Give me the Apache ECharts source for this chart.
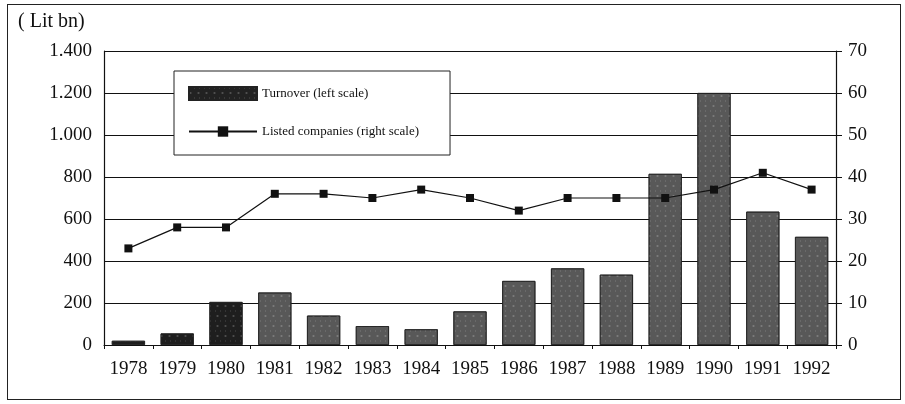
<!DOCTYPE html>
<html>
<head>
<meta charset="utf-8">
<script src="https://cdn.jsdelivr.net/npm/echarts@6/dist/echarts.min.js"></script>
<style>
  html, body { margin: 0; padding: 0; background: #fff; }
  #chart { width: 905px; height: 404px; }
  #frame { position: absolute; left: 7px; top: 4px; width: 894px; height: 396px; border: 1px solid #222; box-sizing: border-box; pointer-events: none; }
</style>
</head>
<body>
<div id="chart"></div>
<div id="frame"></div>
<script>
const years = ['1978', '1979', '1980', '1981', '1982', '1983', '1984', '1985',
  '1986', '1987', '1988', '1989', '1990', '1991', '1992'];
// turnover, Lit bn (left scale)
const turnover = [20, 55, 205, 250, 140, 90, 75, 160, 305, 365, 335, 815, 1200, 635, 515];
// number of listed companies (right scale)
const listed = [23, 28, 28, 36, 36, 35, 37, 35, 32, 35, 35, 35, 37, 41, 37];

const serif = 'Liberation Serif';

const chart = echarts.init(document.getElementById('chart'));
chart.setOption({
  animation: false,
  textStyle: { fontFamily: serif, color: '#111' },
  title: {
    text: '( Lit bn)',
    left: 13, top: 7,
    textStyle: { fontFamily: serif, fontSize: 20, fontWeight: 'normal', color: '#111' }
  },
  grid: { left: 104, right: 69, top: 51, bottom: 59 },
  legend: {
    orient: 'vertical',
    left: 174, top: 71,
    padding: [15, 31, 17, 14],
    itemGap: 24,
    itemWidth: 68, itemHeight: 13,
    backgroundColor: '#fff',
    borderColor: '#222', borderWidth: 1,
    textStyle: { fontFamily: serif, fontSize: 13, color: '#111' },
    data: [
      { name: 'Turnover (left scale)', icon: 'rect' },
      { name: 'Listed companies (right scale)' }
    ]
  },
  xAxis: {
    type: 'category',
    data: years,
    axisLine: { lineStyle: { color: '#111', width: 1.2 } },
    axisTick: { show: true, length: 4, lineStyle: { color: '#111' } },
    axisLabel: { fontFamily: serif, fontSize: 19, color: '#111', margin: 15, interval: 0, hideOverlap: false }
  },
  yAxis: [
    {
      type: 'value', min: 0, max: 1400, interval: 200,
      axisLine: { show: true, lineStyle: { color: '#111', width: 1.2 } },
      axisTick: { show: false },
      splitLine: { lineStyle: { color: '#111', width: 1.2 } },
      axisLabel: {
        fontFamily: serif, fontSize: 19, color: '#111', margin: 12,
        formatter: v => v >= 1000 ? Math.floor(v / 1000) + '.' + String(v % 1000).padStart(3, '0') : String(v)
      }
    },
    {
      type: 'value', min: 0, max: 70, interval: 10,
      position: 'right',
      axisLine: { show: true, lineStyle: { color: '#111', width: 1.2 } },
      axisTick: { show: true, length: 6, lineStyle: { color: '#111' } },
      splitLine: { show: false },
      axisLabel: { fontFamily: serif, fontSize: 19, color: '#111', margin: 12 }
    }
  ],
  series: [
    {
      name: 'Turnover (left scale)',
      type: 'bar',
      yAxisIndex: 0,
      barWidth: '68%',
      data: turnover,
      color: '#222',
      itemStyle: {
        color: p => p.dataIndex < 3 ? '#1e1e1e' : '#585858',
        borderColor: '#222', borderWidth: 0.8,
        decal: {
          symbol: 'rect', symbolSize: 0.6, color: 'rgba(255,255,255,0.35)',
          dashArrayX: [[3, 5], [1, 4]], dashArrayY: [2, 3], rotation: 0
        }
      }
    },
    {
      name: 'Listed companies (right scale)',
      type: 'line',
      yAxisIndex: 1,
      data: listed,
      symbol: 'rect', symbolSize: 8,
      lineStyle: { color: '#111', width: 1.2 },
      itemStyle: { color: '#111' }
    }
  ]
});
</script>
</body>
</html>
